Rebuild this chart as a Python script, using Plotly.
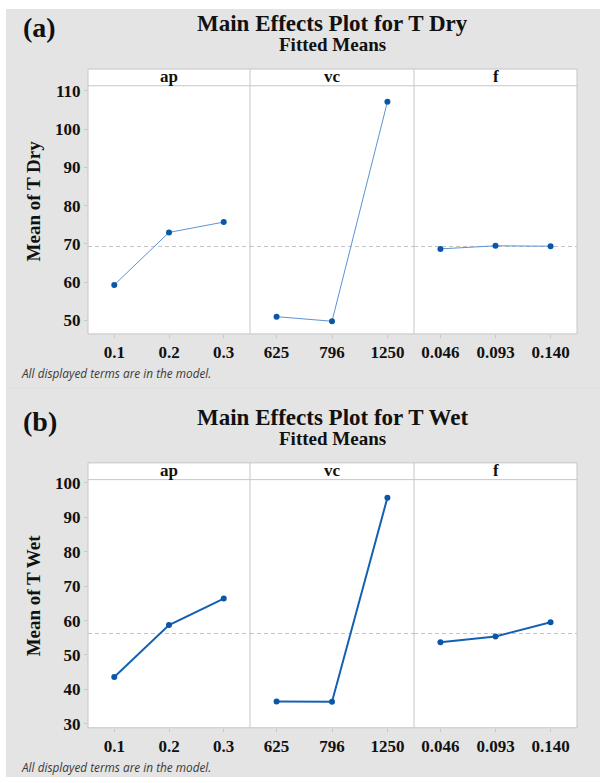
import plotly.graph_objects as go

W, H = 600, 783

# ---- data ----
factors = ["ap", "vc", "f"]
ap_levels = ["0.1", "0.2", "0.3"]
vc_levels = ["625", "796", "1250"]
f_levels = ["0.046", "0.093", "0.140"]
levels = [ap_levels, vc_levels, f_levels]

dry_ap = [59.3, 73.0, 75.7]
dry_vc = [51.0, 49.8, 107.1]
dry_f = [68.7, 69.5, 69.4]

wet_ap = [43.6, 58.7, 66.4]
wet_vc = [36.5, 36.4, 95.7]
wet_f = [53.7, 55.4, 59.5]

dry_yticks = [50, 60, 70, 80, 90, 100, 110]
wet_yticks = [30, 40, 50, 60, 70, 80, 90, 100]

panels = [
    dict(tag="(a)", title="Main Effects Plot for T Dry", ylabel="Mean of T Dry",
         series=[dry_ap, dry_vc, dry_f], yticks=dry_yticks, yrange=[46.5, 111.3],
         off=0, lw=1.0, lc="#5d93d2"),
    dict(tag="(b)", title="Main Effects Plot for T Wet", ylabel="Mean of T Wet",
         series=[wet_ap, wet_vc, wet_f], yticks=wet_yticks, yrange=[28.85, 100.95],
         off=400, lw=2.0, lc="#1560b3"),
]

BG = "#e4e4e4"
BORDER = "#c6c6c6"
SERIF = "Liberation Serif"
MARK = "#0a57a8"


def px(x):
    return x / W


def py(y):
    return 1 - y / H


xbounds = [(88, 250), (250, 414), (414, 577)]

fig = go.Figure()
shapes = []
annotations = []
layout = {}

# gray panel backgrounds
shapes.append(dict(type="rect", xref="paper", yref="paper", x0=px(6), x1=1, y0=py(387.5), y1=py(3),
                   fillcolor=BG, line=dict(width=0), layer="below"))
shapes.append(dict(type="rect", xref="paper", yref="paper", x0=px(6), x1=1, y0=0, y1=py(388.5),
                   fillcolor=BG, line=dict(width=0), layer="below"))
shapes.append(dict(type="line", xref="paper", yref="paper", x0=px(6), x1=1, y0=py(388), y1=py(388),
                   line=dict(color="#d0d0d0", width=1), layer="below"))

ax = 0
for p in panels:
    o = p["off"]
    strip_top, plot_top, plot_bot = 64 + o, 81 + o, 333 + o
    shapes.append(dict(type="rect", xref="paper", yref="paper", x0=px(88), x1=px(577),
                       y0=py(plot_bot), y1=py(strip_top), fillcolor="white",
                       line=dict(color=BORDER, width=1), layer="below"))
    shapes.append(dict(type="line", xref="paper", yref="paper", x0=px(88), x1=px(577),
                       y0=py(plot_top), y1=py(plot_top), line=dict(color=BORDER, width=1), layer="below"))
    for xb in (250, 414):
        shapes.append(dict(type="line", xref="paper", yref="paper", x0=px(xb), x1=px(xb),
                           y0=py(plot_bot), y1=py(strip_top), line=dict(color=BORDER, width=1), layer="below"))
    mean = sum(p["series"][0]) / len(p["series"][0])
    for j in range(3):
        ax += 1
        xa = "xaxis" if ax == 1 else f"xaxis{ax}"
        ya = "yaxis" if ax == 1 else f"yaxis{ax}"
        xr = "x" if ax == 1 else f"x{ax}"
        yr = "y" if ax == 1 else f"y{ax}"
        layout[xa] = dict(domain=[px(xbounds[j][0]), px(xbounds[j][1])], anchor=yr,
                          range=[-0.48, 2.48], tickvals=[0, 1, 2], ticktext=levels[j],
                          showgrid=False, zeroline=False, showline=False,
                          ticks="outside", ticklen=3, tickcolor=BORDER,
                          tickfont=dict(family=SERIF, size=17, color="#111", weight="bold"),
                          fixedrange=True)
        layout[ya] = dict(domain=[py(plot_bot), py(plot_top)], anchor=xr,
                          range=p["yrange"], tickvals=p["yticks"],
                          showgrid=False, zeroline=False, showline=False,
                          showticklabels=(j == 0), ticks="outside" if j == 0 else "",
                          ticklen=3, tickcolor=BORDER,
                          tickfont=dict(family=SERIF, size=17, color="#111", weight="bold"),
                          fixedrange=True)
        fig.add_trace(go.Scatter(x=[0, 1, 2], y=p["series"][j], xaxis=xr, yaxis=yr,
                                 mode="lines+markers",
                                 line=dict(color=p["lc"], width=p["lw"]),
                                 marker=dict(color=MARK, size=6),
                                 showlegend=False, hoverinfo="skip"))
        shapes.append(dict(type="line", xref=f"{xr} domain", yref=yr, x0=0, x1=1, y0=mean, y1=mean,
                           line=dict(color="#c4c4c4", width=1, dash="4px,3px"), layer="below"))
        annotations.append(dict(text=f"<b>{factors[j]}</b>", xref="paper", yref="paper",
                                x=px((xbounds[j][0] + xbounds[j][1]) / 2), y=py(72 + o),
                                xanchor="center", yanchor="middle", showarrow=False,
                                font=dict(family=SERIF, size=17, color="#111")))
    annotations.append(dict(text=f"<b>{p['tag']}</b>", xref="paper", yref="paper",
                            x=px(21), y=py(22 + o), xanchor="left", yanchor="middle",
                            showarrow=False, font=dict(family=SERIF, size=28, color="#111")))
    annotations.append(dict(text=f"<b>{p['title']}</b>", xref="paper", yref="paper",
                            x=px(332.5), y=py(18 + o), xanchor="center", yanchor="middle",
                            showarrow=False, font=dict(family=SERIF, size=23, color="#111")))
    annotations.append(dict(text="<b>Fitted Means</b>", xref="paper", yref="paper",
                            x=px(332.5), y=py(39.5 + o), xanchor="center", yanchor="middle",
                            showarrow=False, font=dict(family=SERIF, size=19, color="#111")))
    annotations.append(dict(text=f"<b>{p['ylabel']}</b>", xref="paper", yref="paper",
                            x=px(33), y=py(198.5 + o), xanchor="center", yanchor="middle",
                            textangle=-90, showarrow=False,
                            font=dict(family=SERIF, size=19, color="#111")))
    annotations.append(dict(text="<i>All displayed terms are in the model.</i>", xref="paper", yref="paper",
                            x=px(19), y=py(373 + o), xanchor="left", yanchor="middle",
                            showarrow=False, font=dict(family="Open Sans", size=11.8, color="#3a3a3a")))

fig.update_layout(
    width=W, height=H, margin=dict(l=0, r=0, t=0, b=0),
    paper_bgcolor="white", plot_bgcolor="rgba(0,0,0,0)",
    shapes=shapes, annotations=annotations, showlegend=False,
    **layout,
)

fig.write_html("out.html")
